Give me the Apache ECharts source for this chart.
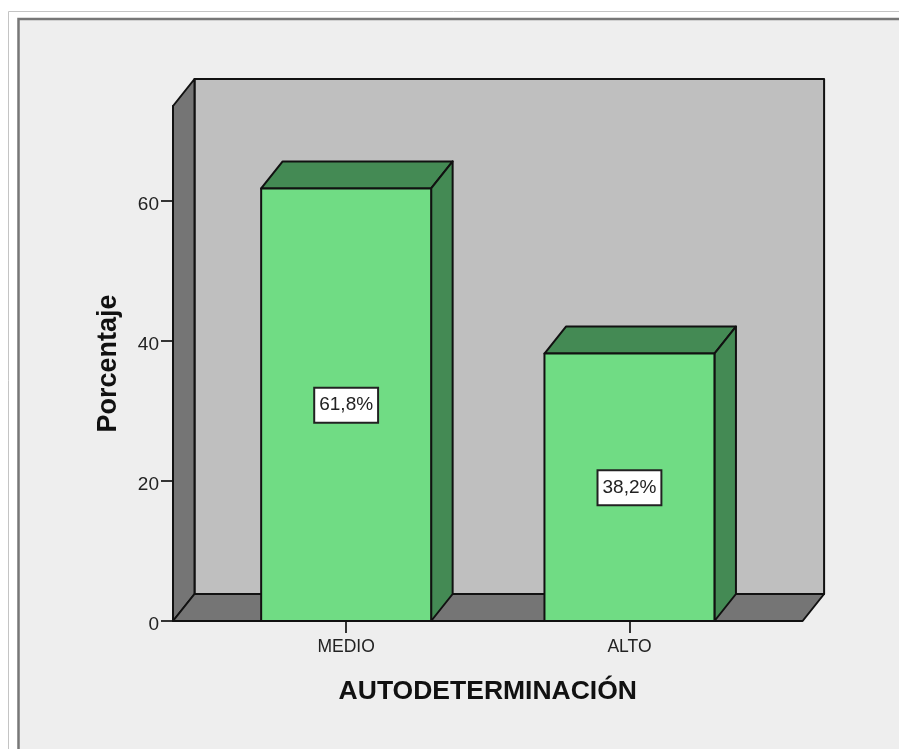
<!DOCTYPE html>
<html><head><meta charset="utf-8">
<style>html,body{margin:0;padding:0;background:#fff}#c{width:899px;height:749px}</style>
<script src="https://cdn.jsdelivr.net/npm/echarts@6/dist/echarts.min.js"></script>
</head><body><div id="c"></div>
<script>
const categories = ['MEDIO', 'ALTO'];
const values = [61.8, 38.2];
const valueLabels = ['61,8%', '38,2%'];
const yTicks = [0, 20, 40, 60];
const xTitle = 'AUTODETERMINACIÓN';
const yTitle = 'Porcentaje';
const yMax = 515 / 7;
const dx = 21.5, dy = -27, inset = 31.5;
const ink = '#111';
const chart = echarts.init(document.getElementById('c'), null, {renderer: 'canvas'});
const poly = (pts, fill, z) => ({type: 'polygon', z2: z || 0, shape: {points: pts},
  style: {fill, stroke: ink, lineWidth: 2, lineJoin: 'round'}});
function renderFrame(params, api) {
  const cs = params.coordSys;
  const l = cs.x - inset, r = cs.x + cs.width + inset, t = cs.y, b = cs.y + cs.height;
  return {type: 'group', children: [
    poly([[l+dx,t+dy],[r+dx,t+dy],[r+dx,b+dy],[l+dx,b+dy]], '#bfbfbf'),
    poly([[l,t],[l+dx,t+dy],[l+dx,b+dy],[l,b]], '#757575'),
    poly([[l,b],[l+dx,b+dy],[r+dx,b+dy],[r,b]], '#757575')
  ]};
}
function renderBar(params, api) {
  const c = api.coord([api.value(0), api.value(1)]);
  const base = api.coord([api.value(0), 0]);
  const w = api.size([1, 0])[0] * 0.6;
  const l = c[0] - w / 2, r = c[0] + w / 2, t = c[1], b = base[1];
  const mid = (t + b) / 2;
  return {type: 'group', children: [
    poly([[l,t],[l+dx,t+dy],[r+dx,t+dy],[r,t]], '#448a54'),
    poly([[r,t],[r+dx,t+dy],[r+dx,b+dy],[r,b]], '#448a54'),
    poly([[l,t],[r,t],[r,b],[l,b]], '#70dc84'),
    {type: 'text', z2: 5, style: {
      text: valueLabels[params.dataIndex], x: c[0], y: mid + 0.5, align: 'center', verticalAlign: 'middle',
      fontFamily: 'Liberation Sans', fontSize: 19, fill: '#222',
      backgroundColor: '#fff', borderColor: '#222', borderWidth: 2, padding: [7, 4, 7, 4]
    }}
  ]};
}
chart.setOption({
  animation: false,
  backgroundColor: '#fff',
  graphic: [
    {type: 'polyline', z: -10, silent: true, shape: {points: [[8.5,749],[8.5,11.5],[899,11.5]]},
      style: {stroke: '#c4c4c4', lineWidth: 1, fill: 'none'}},
    {type: 'rect', z: -10, silent: true, shape: {x: 18.5, y: 19, width: 890, height: 740},
      style: {fill: '#eeeeee', stroke: '#777', lineWidth: 2.5}}
  ],
  grid: {left: 204.5, width: 566.6, top: 106, height: 515},
  xAxis: {
    type: 'category', data: categories,
    name: xTitle, nameLocation: 'middle', nameGap: 57,
    nameTextStyle: {fontFamily: 'Liberation Sans', fontWeight: 'bold', fontSize: 26.5, color: '#111'},
    axisLine: {show: false},
    axisTick: {show: true, alignWithLabel: true, length: 12, lineStyle: {color: '#333', width: 2}},
    axisLabel: {fontFamily: 'Liberation Sans', fontSize: 17.5, color: '#222', margin: 17},
    splitLine: {show: false}
  },
  yAxis: {
    type: 'value', min: 0, max: yMax, offset: inset,
    name: yTitle, nameLocation: 'middle', nameGap: 51,
    nameTextStyle: {fontFamily: 'Liberation Sans', fontWeight: 'bold', fontSize: 27, color: '#111'},
    axisLine: {show: true, lineStyle: {color: ink, width: 2}},
    axisTick: {show: true, length: 12, lineStyle: {color: '#333', width: 2}, customValues: yTicks},
    axisLabel: {fontFamily: 'Liberation Sans', fontSize: 19, color: '#222', margin: 14, verticalAlign: 'top', lineHeight: 8, customValues: yTicks},
    splitLine: {show: false}
  },
  series: [
    {type: 'custom', coordinateSystem: 'cartesian2d', z: 1, silent: true, renderItem: renderFrame,
      data: [[0, 0]], encode: {x: 0, y: 1}},
    {type: 'custom', coordinateSystem: 'cartesian2d', z: 2, silent: true, renderItem: renderBar,
      data: categories.map((c, i) => [i, values[i]]), encode: {x: 0, y: 1}}
  ]
});
</script></body></html>
